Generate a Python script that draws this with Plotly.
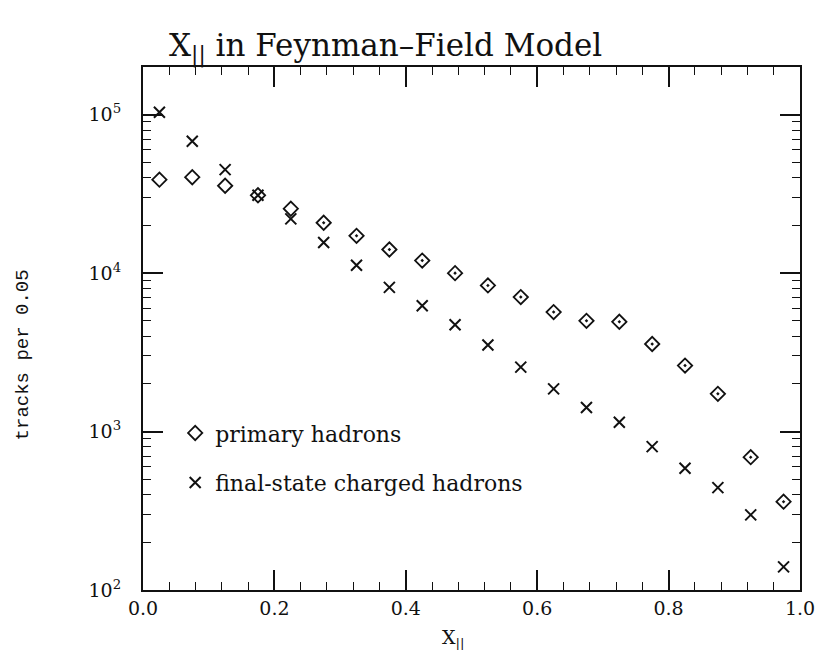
import plotly.graph_objects as go

# ---- data ----
x_bins = [0.025, 0.075, 0.125, 0.175, 0.225, 0.275, 0.325, 0.375, 0.425, 0.475,
          0.525, 0.575, 0.625, 0.675, 0.725, 0.775, 0.825, 0.875, 0.925, 0.975]
primary = [38900, 40300, 35600, 31000, 25500, 20800, 17200, 14100, 12000, 10000,
           8360, 7060, 5680, 5000, 4930, 3570, 2610, 1730, 689, 361]
final_charged = [103500, 67900, 45000, 31000, 22000, 15600, 11200, 8130, 6220, 4720,
                 3520, 2550, 1860, 1420, 1145, 803, 587, 443, 298, 140]
primary_symbols = ["diamond-open"] * 5 + ["diamond-open-dot"] * 15

series_names = ["primary hadrons", "final-state charged hadrons"]
title_text = "X<sub>||</sub> in Feynman\u2013Field Model"
x_title = "X<sub>||</sub>"
y_title = "tracks per 0.05"

x_tickvals = [0.0, 0.2, 0.4, 0.6, 0.8, 1.0]
x_ticktext = ["0.0", "0.2", "0.4", "0.6", "0.8", "1.0"]
y_tickvals = [1e2, 1e3, 1e4, 1e5]
y_ticktext = ["10<sup>2</sup>", "10<sup>3</sup>", "10<sup>4</sup>", "10<sup>5</sup>"]
y_minor = [m * 10 ** e for e in (2, 3, 4) for m in range(2, 10)]

SERIF = "DejaVu Serif, Liberation Serif, serif"
INK = "#111111"

fig = go.Figure()
fig.add_trace(go.Scatter(
    x=x_bins, y=primary, mode="markers", name=series_names[0], legendgroup="a",
    marker=dict(symbol=primary_symbols, size=11, color=INK,
                line=dict(color=INK, width=1.8)),
))
fig.add_trace(go.Scatter(
    x=x_bins, y=final_charged, mode="markers", name=series_names[1], legendgroup="b",
    marker=dict(symbol="x-thin", size=11, color=INK,
                line=dict(color=INK, width=2)),
))

axis_common = dict(
    showline=True, linecolor=INK, linewidth=2, mirror="allticks",
    ticks="inside", ticklen=20, tickwidth=1.5, tickcolor=INK,
    showgrid=False, zeroline=False, ticklabeloverflow="allow",
    tickfont=dict(family=SERIF, size=19, color=INK),
)

fig.update_xaxes(
    range=[0, 1.00001], tickmode="array", tickvals=x_tickvals, ticktext=x_ticktext,
    minor=dict(tickmode="linear", tick0=0, dtick=0.04, ticks="inside",
               ticklen=8, tickwidth=1.2, tickcolor=INK, showgrid=False),
    **axis_common,
)
fig.update_yaxes(
    type="log", range=[2, 5.30103], tickmode="array",
    tickvals=y_tickvals, ticktext=y_ticktext,
    minor=dict(tickmode="array", tickvals=y_minor, ticks="inside",
               ticklen=8, tickwidth=1.2, tickcolor=INK, showgrid=False),
    ticklabelstandoff=16,
    **axis_common,
)

fig.update_layout(
    width=827, height=650,
    margin=dict(l=143, r=14, t=67, b=60),
    paper_bgcolor="white", plot_bgcolor="white",
    title=dict(text=title_text, x=169 / 827, xanchor="left", xref="container",
               y=1 - 45 / 650, yanchor="middle", yref="container",
               font=dict(family=SERIF, size=31, color=INK)),
    showlegend=True,
    legend=dict(x=0.049, y=0.34, xanchor="left", yanchor="top",
                bgcolor="rgba(0,0,0,0)", borderwidth=0,
                font=dict(family=SERIF, size=22, color=INK),
                tracegroupgap=18, itemsizing="trace"),
    annotations=[
        dict(text=x_title, xref="paper", yref="paper", x=0.472, y=-0.092,
             xanchor="center", yanchor="middle", showarrow=False,
             font=dict(family=SERIF, size=19, color=INK)),
        dict(text=y_title, xref="paper", yref="paper", x=-0.183, y=0.45,
             xanchor="center", yanchor="middle", showarrow=False, textangle=-90,
             font=dict(family="Liberation Mono, Courier New, monospace", size=19, color=INK)),
    ],
)

fig.write_html("out.html")
